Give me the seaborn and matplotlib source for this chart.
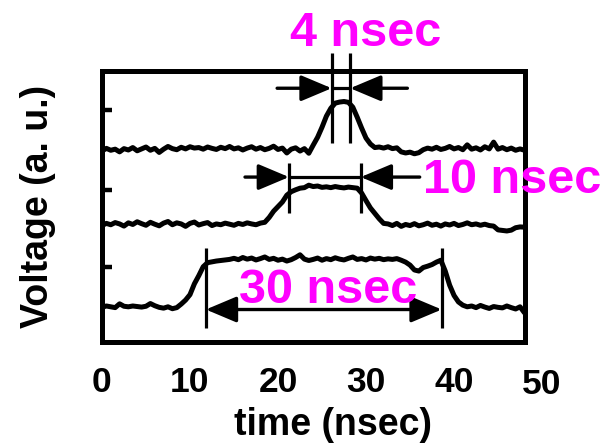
import numpy as np
import pandas as pd
import matplotlib
matplotlib.use("Agg")
import matplotlib.pyplot as plt
import seaborn as sns

# sampling grid of the oscilloscope traces (ns)
time_ns = np.arange(0, 48.01, 0.5)

# 4 ns pulse (top trace)
pulse_4ns = [
    7.05, 7.15, 7.08, 7.12, 7.02, 7.14, 7.09, 7.18, 7.06, 7.13,
    7.20, 7.08, 7.15, 7.00, 7.12, 7.22, 7.14, 7.10, 7.19, 7.13,
    7.21, 7.16, 7.18, 7.12, 7.20, 7.15, 7.11, 7.19, 7.14, 7.22,
    7.13, 7.17, 7.09, 7.16, 7.21, 7.12, 7.18, 7.10, 7.15, 7.23,
    7.11, 7.16, 6.98, 7.12, 7.17, 7.05, 7.14, 6.97, 7.27, 7.56,
    7.93, 8.34, 8.63, 8.82, 8.86, 8.88, 8.85, 8.67, 8.30, 7.90,
    7.53, 7.31, 7.18, 7.20, 7.16, 7.21, 7.14, 7.17, 7.02, 6.98,
    7.01, 6.95, 6.99, 7.10, 7.16, 7.12, 7.19, 7.11, 7.15, 7.22,
    7.13, 7.18, 7.10, 7.28, 7.12, 7.17, 7.09, 7.21, 7.13, 7.38,
    7.12, 7.18, 7.10, 7.16, 7.08, 7.13, 7.08,
]

# 10 ns pulse (middle trace)
pulse_10ns = [
    4.30, 4.38, 4.33, 4.41, 4.36, 4.28, 4.40, 4.34, 4.44, 4.37,
    4.31, 4.42, 4.35, 4.29, 4.39, 4.45, 4.33, 4.40, 4.36, 4.27,
    4.38, 4.43, 4.32, 4.37, 4.41, 4.30, 4.36, 4.33, 4.39, 4.35,
    4.31, 4.38, 4.34, 4.40, 4.36, 4.33, 4.39, 4.42, 4.60, 4.83,
    5.00, 5.17, 5.42, 5.55, 5.62, 5.68, 5.70, 5.79, 5.74, 5.76,
    5.71, 5.73, 5.70, 5.74, 5.71, 5.69, 5.72, 5.70, 5.68, 5.50,
    5.22, 4.95, 4.75, 4.55, 4.38, 4.36, 4.30, 4.38, 4.27, 4.34,
    4.30, 4.37, 4.29, 4.33, 4.39, 4.31, 4.35, 4.28, 4.36, 4.32,
    4.38, 4.30, 4.34, 4.40, 4.33, 4.36, 4.31, 4.35, 4.30, 4.28,
    4.14, 4.12, 4.10, 4.13, 4.22, 4.25, 4.24,
]

# 30 ns pulse (bottom trace)
pulse_30ns = [
    1.28, 1.33, 1.30, 1.27, 1.41, 1.32, 1.30, 1.33, 1.31, 1.29,
    1.32, 1.42, 1.34, 1.28, 1.25, 1.30, 1.23, 1.27, 1.40, 1.55,
    1.75, 2.15, 2.45, 2.78, 2.93, 2.96, 2.99, 3.01, 3.03, 3.05,
    3.09, 3.04, 3.12, 3.06, 3.10, 3.03, 3.08, 3.14, 3.05, 3.09,
    3.02, 3.06, 2.99, 3.04, 3.12, 3.22, 3.06, 3.01, 3.05, 3.10,
    3.02, 3.08, 3.04, 3.11, 3.06, 3.03, 3.09, 3.14, 3.05, 3.08,
    3.03, 3.10, 3.06, 3.09, 3.04, 3.07, 3.05, 3.08, 3.02, 2.95,
    2.84, 2.66, 2.62, 2.75, 2.80, 2.86, 2.95, 3.02, 2.62, 2.10,
    1.72, 1.48, 1.36, 1.30, 1.33, 1.27, 1.35, 1.29, 1.24, 1.31,
    1.28, 1.26, 1.33, 1.27, 1.22, 1.30, 1.08,
]

# width markers: label, edges (ns), vertical extent, arrow level
width_labels = ["4 nsec", "10 nsec", "30 nsec"]
edge_left = [26.1, 21.25, 11.8]
edge_right = [28.2, 29.4, 38.6]
edge_low = [7.34, 4.76, 0.52]
edge_high = [10.66, 6.61, 3.47]
arrow_level = [9.37, 6.09, 1.20]
arrow_tail_left = [19.9, 16.25]
arrow_tail_right = [34.7, 36.1]
label_time = [30.0, 46.6, 25.7]
label_volt = [10.92, 5.50, 1.45]

level_ticks = [2.77, 5.61, 8.56]
time_ticks = [0, 10, 20, 30, 40, 50]

df = pd.concat([
    pd.DataFrame({"time": time_ns, "voltage": pulse_4ns, "pulse": "4 ns"}),
    pd.DataFrame({"time": time_ns, "voltage": pulse_10ns, "pulse": "10 ns"}),
    pd.DataFrame({"time": time_ns, "voltage": pulse_30ns, "pulse": "30 ns"}),
])

sns.set_theme(style="white")
plt.rcParams["font.family"] = ["Liberation Sans", "DejaVu Sans"]
plt.rcParams["font.weight"] = "bold"
plt.rcParams["text.color"] = "black"
plt.rcParams["axes.labelcolor"] = "black"
plt.rcParams["xtick.color"] = "black"
plt.rcParams["ytick.color"] = "black"

fig = plt.figure(figsize=(6.07, 4.44), dpi=100)
ax = fig.add_axes([0.168, 0.2297, 0.697, 0.610])

sns.lineplot(data=df, x="time", y="voltage", units="pulse", estimator=None,
             color="black", lw=3.6, ax=ax, legend=False, sort=False)

ax.set_xlim(0, 48.07)
ax.set_ylim(0, 10)

for s in ax.spines.values():
    s.set_linewidth(3.6)
    s.set_color("black")

ax.set_yticks(level_ticks)
ax.set_yticklabels([])
ax.tick_params(axis="y", direction="in", length=7.5, width=3.2, color="black",
               left=True)
shown = [t for t in time_ticks if t <= 48.07]
ax.set_xticks(shown)
ax.set_xticklabels([str(t) for t in shown])
ax.tick_params(axis="x", length=0, pad=17, labelsize=25.5, labelcolor="black")
for lab in ax.get_xticklabels():
    lab.set_fontweight("bold")
# last tick label sits just past the frame
for t in time_ticks:
    if t > 48.07:
        ax.annotate(str(t), xy=(t, 0), xycoords=("data", "axes fraction"),
                    xytext=(0, -17 - 1.8), textcoords="offset points",
                    ha="center", va="top", fontsize=25.5, fontweight="bold",
                    color="black", annotation_clip=False)

ax.set_xlabel("time (nsec)", fontsize=27, fontweight="bold", color="black")
ax.set_ylabel("Voltage (a. u.)", fontsize=27, fontweight="bold", color="black")
ax.xaxis.set_label_coords(0.545, -0.240)
ax.yaxis.set_label_coords(-0.108, 0.5)

line_kw = dict(color="black", lw=2.3, clip_on=False, solid_capstyle="butt")
head = "-|>,head_length=1.9,head_width=0.8"
arrow_kw = dict(arrowstyle=head, color="black", lw=2.4, shrinkA=0, shrinkB=0,
                mutation_scale=10)

for i, label in enumerate(width_labels):
    l, r = edge_left[i], edge_right[i]
    for x in (l, r):
        ax.plot([x, x], [edge_low[i], edge_high[i]], **line_kw)
    y = arrow_level[i]
    if i < 2:
        ax.plot([l, r], [y, y], **line_kw)
        ax.annotate("", xy=(l, y), xytext=(arrow_tail_left[i], y),
                    arrowprops=arrow_kw, annotation_clip=False)
        ax.annotate("", xy=(r, y), xytext=(arrow_tail_right[i], y),
                    arrowprops=arrow_kw, annotation_clip=False)
    else:
        ax.annotate("", xy=(l, y), xytext=(r, y),
                    arrowprops=dict(arrow_kw, arrowstyle="<|-|>,head_length=1.9,head_width=0.8"),
                    annotation_clip=False)
    ax.text(label_time[i], label_volt[i], label, color="#ff00ff",
            fontsize=35, fontweight="bold", ha="center", va="baseline",
            zorder=5, clip_on=False)

fig.savefig("out.png", dpi=100)
